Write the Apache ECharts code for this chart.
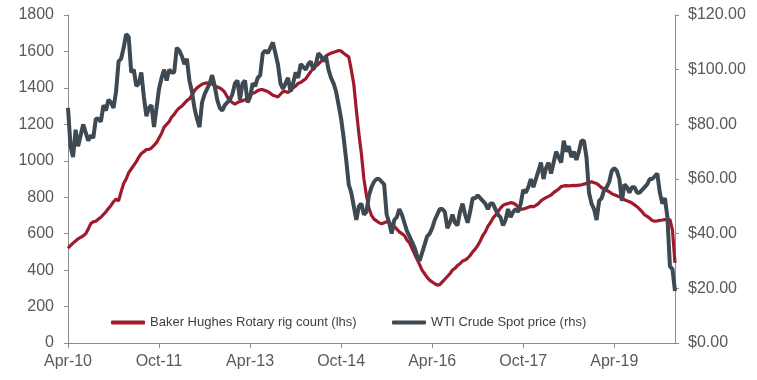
<!DOCTYPE html>
<html><head><meta charset="utf-8">
<script src="https://cdn.jsdelivr.net/npm/echarts@6/dist/echarts.min.js"></script>
<style>html,body{margin:0;padding:0;background:#fff}#c{width:757px;height:380px}</style>
</head><body><div id="c"></div>
<script>
// Semi-monthly observations, Apr 2010 .. Apr 2020
const rigCount = [
  520,535,548,560,572,580,588,600,625,655,665,668,680,690,705,720,738,755,
  775,790,780,830,875,900,935,955,975,995,1020,1040,1050,1062,1062,1070,1085,1100,1125,1150,1185,1200,1215,1240,
  1255,1275,1290,1300,1315,1330,1340,1360,1385,1400,1410,1420,1425,1428,1420,1425,1410,1405,1400,1390,1375,1350,1330,1320,
  1310,1320,1325,1330,1335,1345,1360,1370,1375,1385,1390,1390,1385,1380,1370,1360,1355,1350,1365,1380,1380,1375,1385,1400,
  1410,1425,1430,1440,1450,1470,1490,1505,1520,1530,1545,1560,1575,1585,1590,1595,1600,1605,1602,1590,1580,1570,1500,1420,
  1280,1150,1040,900,810,740,700,680,670,660,655,660,665,660,650,640,625,610,600,590,565,550,520,490,
  460,430,400,380,360,345,335,325,318,320,335,350,365,380,400,410,425,435,450,455,465,480,500,515,
  535,560,590,610,640,660,685,700,720,740,755,762,765,770,768,760,745,735,735,740,745,750,748,755,
  765,780,790,798,805,812,825,835,845,858,862,864,862,864,865,864,866,868,872,876,880,885,880,875,
  865,852,845,838,830,820,813,808,802,795,786,780,775,768,758,748,735,720,703,695,685,672,668,670,
  673,675,678,675,678,620,440
];
const wtiPrice = [
  86,72,68,78,72,76,80,77,74,76,75,82,82,81,87,85,89,88,
  86,92,103,104,108,113,112,99,100,94,95,99,90,83,86,87,79,86,93,97,100,96,100,99,
  99,108,107,105,102,104,96,92,86,82,79,88,91,93,95,98,94,89,86,85,87,88,89,91,
  95,96,89,95,96,88,90,95,94,97,98,106,107,106,108,110,106,102,95,93,95,97,92,95,
  99,97,102,101,100,102,103,100,102,106,105,103,105,100,97,95,92,87,82,75,67,58,55,50,
  45,50,51,47,48,54,57,59,60,60,59,58,47,44,40,45,46,49,47,44,41,39,37,35,
  32,30,33,36,39,40,42,45,47,49,49,48,42,44,47,44,43,48,51,47,44,48,53,53,
  54,53,52,51,49,51,51,49,47,46,43,45,49,46,48,49,48,51,56,55,57,60,57,60,
  63,66,60,64,66,62,66,70,68,66,74,70,72,68,70,67,70,74,74,68,55,51,49,45,
  52,53,56,57,59,63,64,63,60,52,58,57,55,57,57,55,55,56,57,58,60,60,61,62,
  55,51,53,46,28,27,19
];
const xTickLabels = ['Apr-10','Oct-11','Apr-13','Oct-14','Apr-16','Oct-17','Apr-19'];
const seriesNames = ['Baker Hughes Rotary rig count (lhs)','WTI Crude Spot price (rhs)'];

const periods = [];
for (let i = 0; i < rigCount.length; i++) {
  const mIdx = 3 + Math.floor(i / 2); // months since Jan 2010
  const y = 2010 + Math.floor(mIdx / 12), mo = mIdx % 12 + 1;
  periods.push(y + '-' + String(mo).padStart(2,'0') + (i % 2 ? 'b' : 'a'));
}
const TICK_STEP = 36;
const FONT = "'Liberation Sans', Arial, sans-serif";
const axisColor = '#8c8c8c', labelColor = '#595959';

const chart = echarts.init(document.getElementById('c'));
chart.setOption({
  animation: false,
  backgroundColor: '#fff',
  grid: {left: 68, right: 82, top: 15, bottom: 37},
  legend: [
    {data: [seriesNames[0]], left: 106, top: 311, itemWidth: 34, itemHeight: 4, icon: 'roundRect',
     textStyle: {fontSize: 13, color: '#404040', fontFamily: FONT}},
    {data: [seriesNames[1]], left: 387, top: 311, itemWidth: 34, itemHeight: 4, icon: 'roundRect',
     textStyle: {fontSize: 13, color: '#404040', fontFamily: FONT}}
  ],
  xAxis: {
    type: 'category', data: periods, boundaryGap: false,
    axisLine: {lineStyle: {color: axisColor, width: 1}},
    axisTick: {interval: i => i % TICK_STEP === 0, length: 5, lineStyle: {color: axisColor}},
    axisLabel: {interval: i => i % TICK_STEP === 0, formatter: (v, i) => xTickLabels[i / TICK_STEP] || '',
      margin: 11, fontSize: 16, color: labelColor, fontFamily: FONT},
    splitLine: {show: false}
  },
  yAxis: [
    {type: 'value', min: 0, max: 1800, interval: 200, position: 'left',
     axisLine: {show: true, lineStyle: {color: axisColor}},
     axisTick: {show: true, length: 4, lineStyle: {color: axisColor}},
     axisLabel: {fontSize: 16, color: labelColor, margin: 14, fontFamily: FONT,
       formatter: v => String(v)},
     splitLine: {show: false}},
    {type: 'value', min: 0, max: 120, interval: 20, position: 'right',
     axisLine: {show: true, lineStyle: {color: axisColor}},
     axisTick: {show: true, length: 4, lineStyle: {color: axisColor}},
     axisLabel: {fontSize: 16, color: labelColor, margin: 13, fontFamily: FONT,
       formatter: v => '$' + v.toFixed(2)},
     splitLine: {show: false}}
  ],
  series: [
    {name: seriesNames[0], type: 'line', yAxisIndex: 0, data: rigCount, showSymbol: false,
     lineStyle: {color: '#a01a2d', width: 3.2}, itemStyle: {color: '#a01a2d'}, z: 2},
    {name: seriesNames[1], type: 'line', yAxisIndex: 1, data: wtiPrice, showSymbol: false,
     lineStyle: {color: '#3e4952', width: 4}, itemStyle: {color: '#3e4952'}, z: 3}
  ]
});
</script></body></html>
